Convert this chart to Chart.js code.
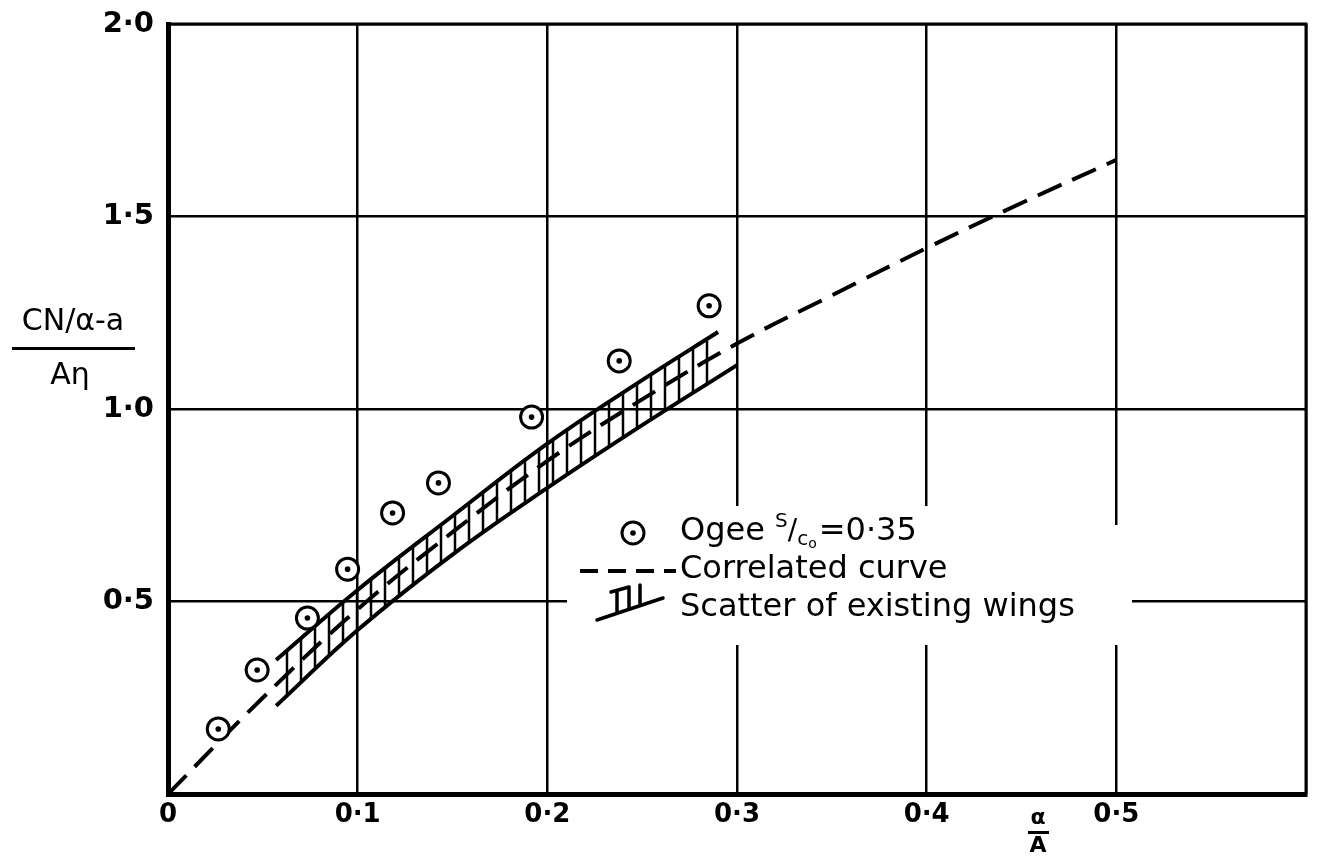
<!DOCTYPE html>
<html>
<head>
<meta charset="utf-8">
<title>CN/α-a over Aη against α/A</title>
<script src="https://cdn.jsdelivr.net/npm/chart.js@4"></script>
<style>
  html, body { margin: 0; padding: 0; background: #fff; }
  #wrap { width: 1320px; height: 857px; }
</style>
</head>
<body>
<div id="wrap"><canvas id="ogeeChart" width="1320" height="857"></canvas></div>
<script>
// Ogee s/c0 = 0.35 test points
const ogeeX = [0.0265, 0.047, 0.0735, 0.0947, 0.1184, 0.1426, 0.1917, 0.2379, 0.2853];
const ogeeY = [0.169, 0.322, 0.457, 0.584, 0.730, 0.808, 0.979, 1.125, 1.268];

// correlated curve (dashed)
const curveX = [0, 0.05, 0.1, 0.15, 0.2, 0.25, 0.3, 0.35, 0.4, 0.45, 0.5];
const curveY = [0, 0.25, 0.48, 0.68, 0.865, 1.025, 1.17, 1.295, 1.418, 1.535, 1.647];

// scatter band of existing wings
const bandUpperX = [0.057, 0.1, 0.15, 0.2, 0.25, 0.29];
const bandUpperY = [0.348, 0.53, 0.722, 0.91, 1.075, 1.20];
const bandLowerX = [0.057, 0.1, 0.15, 0.2, 0.25, 0.3];
const bandLowerY = [0.229, 0.426, 0.622, 0.795, 0.958, 1.114];

// tick labels
const xTickValues = [0, 0.1, 0.2, 0.3, 0.4, 0.5, 0.6];
const xTickLabels = ['0', '0·1', '0·2', '0·3', '0·4', '0·5', ''];
const yTickValues = [0, 0.5, 1.0, 1.5, 2.0];
const yTickLabels = ['', '0·5', '1·0', '1·5', '2·0'];

const legendLabels = ['Ogee', 'Correlated curve', 'Scatter of existing wings'];

const toPoints = (xs, ys) => xs.map((x, i) => ({ x: x, y: ys[i] }));

// vertical hatching for the band
function hatchPattern() {
    const c = document.createElement('canvas');
    c.width = 14; c.height = 14;
    const g = c.getContext('2d');
    g.strokeStyle = '#000';
    g.lineWidth = 2.5;
    g.beginPath();
    g.moveTo(7, 0); g.lineTo(7, 14);
    g.stroke();
    return g.createPattern(c, 'repeat');
}

const FONT = '"DejaVu Sans", sans-serif';

// white clearing behind the legend, outer frame
const framePlugin = {
    id: 'frame',
    beforeDatasetsDraw(chart) {
        const ctx = chart.ctx;
        ctx.save();
        ctx.fillStyle = '#fff';
        ctx.fillRect(567, 506, 545, 139);
        ctx.fillRect(1110, 525, 22, 120);
        ctx.restore();
    },
    afterDraw(chart) {
        const ctx = chart.ctx;
        const a = chart.chartArea;
        ctx.save();
        ctx.strokeStyle = '#000';
        ctx.lineWidth = 3;
        ctx.beginPath();
        ctx.moveTo(a.left, a.top);
        ctx.lineTo(a.right, a.top);
        ctx.lineTo(a.right, a.bottom);
        ctx.stroke();
        ctx.restore();
    }
};

// dots in the centre of the test points, legend and axis titles
const annotatePlugin = {
    id: 'annotate',
    afterDatasetsDraw(chart) {
        const ctx = chart.ctx;
        ctx.save();
        ctx.fillStyle = '#000';
        chart.getDatasetMeta(0).data.forEach(p => {
            ctx.beginPath();
            ctx.arc(p.x, p.y, 2.8, 0, Math.PI * 2);
            ctx.fill();
        });

        // legend: circle symbol
        ctx.lineWidth = 3;
        ctx.strokeStyle = '#000';
        ctx.beginPath();
        ctx.arc(633, 533, 11, 0, Math.PI * 2);
        ctx.stroke();
        ctx.beginPath();
        ctx.arc(633, 533, 2.8, 0, Math.PI * 2);
        ctx.fill();

        // legend: dashed line
        ctx.lineWidth = 4;
        ctx.setLineDash([18, 10]);
        ctx.beginPath();
        ctx.moveTo(580, 571);
        ctx.lineTo(676, 571);
        ctx.stroke();
        ctx.setLineDash([]);

        // legend: hatching symbol
        ctx.lineWidth = 3.5;
        ctx.lineCap = 'round';
        ctx.beginPath();
        ctx.moveTo(597, 620); ctx.lineTo(663, 598);
        ctx.moveTo(611, 592); ctx.lineTo(629, 587);
        ctx.moveTo(617, 592); ctx.lineTo(617, 612);
        ctx.moveTo(629, 587); ctx.lineTo(629, 608);
        ctx.moveTo(640, 585); ctx.lineTo(640, 604);
        ctx.stroke();
        ctx.lineCap = 'butt';

        // legend text
        ctx.textBaseline = 'middle';
        ctx.textAlign = 'left';
        ctx.font = '32px ' + FONT;
        ctx.fillText(legendLabels[0], 680, 532);
        let x = 680 + ctx.measureText(legendLabels[0] + ' ').width;
        ctx.font = '20px ' + FONT;
        ctx.fillText('S', x, 522);
        x += ctx.measureText('S').width;
        ctx.font = '28px ' + FONT;
        ctx.fillText('/', x, 532);
        x += ctx.measureText('/').width;
        ctx.font = '20px ' + FONT;
        ctx.fillText('c', x, 540);
        x += ctx.measureText('c').width;
        ctx.font = '14px ' + FONT;
        ctx.fillText('o', x, 544);
        x += ctx.measureText('o').width + 2;
        ctx.font = '32px ' + FONT;
        ctx.fillText('=0·35', x, 532);
        ctx.fillText(legendLabels[1], 680, 570);
        ctx.fillText(legendLabels[2], 680, 608);

        // y axis title as a fraction
        ctx.textAlign = 'center';
        ctx.font = '30px ' + FONT;
        ctx.fillText('CN/α-a', 73, 322);
        ctx.fillRect(12, 347, 123, 3);
        ctx.fillText('Aη', 70, 376);

        // x axis title as a fraction
        ctx.font = 'bold 22px ' + FONT;
        ctx.fillText('α', 1038, 818);
        ctx.fillRect(1028, 831, 21, 3);
        ctx.fillText('A', 1038, 846);
        ctx.restore();
    }
};

const ctxEl = document.getElementById('ogeeChart');
const hatch = hatchPattern();

const ogeeChart = new Chart(ctxEl, {
    type: 'line',
    data: {
        datasets: [
            {
                label: 'Ogee s/c0 = 0.35',
                data: toPoints(ogeeX, ogeeY),
                showLine: false,
                pointRadius: 11,
                pointBorderWidth: 3,
                pointBorderColor: '#000',
                pointBackgroundColor: '#fff',
                order: 0
            },
            {
                label: 'Correlated curve',
                data: toPoints(curveX, curveY),
                borderColor: '#000',
                borderWidth: 4,
                borderDash: [26, 12],
                pointRadius: 0,
                tension: 0.4,
                fill: false,
                order: 1
            },
            {
                label: 'Scatter upper',
                data: toPoints(bandUpperX, bandUpperY),
                borderColor: '#000',
                borderWidth: 4,
                pointRadius: 0,
                tension: 0.4,
                fill: false,
                order: 2
            },
            {
                label: 'Scatter of existing wings',
                data: toPoints(bandLowerX, bandLowerY),
                borderColor: '#000',
                borderWidth: 4,
                backgroundColor: hatch,
                pointRadius: 0,
                tension: 0.4,
                fill: '-1',
                order: 3
            }
        ]
    },
    options: {
        responsive: false,
        animation: false,
        devicePixelRatio: 1,
        layout: { padding: { top: 24, right: 12, left: 0, bottom: 0 } },
        plugins: {
            legend: { display: false },
            tooltip: { enabled: false }
        },
        scales: {
            x: {
                type: 'linear',
                min: 0,
                max: 0.6,
                afterBuildTicks: s => { s.ticks = xTickValues.map(v => ({ value: v })); },
                afterFit: s => { s.height = 63; s.paddingLeft = 0; s.paddingRight = 0; },
                ticks: {
                    color: '#000',
                    font: { family: FONT, size: 26, weight: 'bold' },
                    padding: 6,
                    maxRotation: 0,
                    callback: (v, i) => xTickLabels[i]
                },
                grid: { color: '#000', lineWidth: 2.5, drawTicks: false },
                border: { color: '#000', width: 5 }
            },
            y: {
                type: 'linear',
                min: 0,
                max: 2.0,
                afterBuildTicks: s => { s.ticks = yTickValues.map(v => ({ value: v })); },
                afterFit: s => { s.width = 168; s.paddingTop = 0; s.paddingBottom = 0; },
                ticks: {
                    color: '#000',
                    font: { family: FONT, size: 29, weight: 'bold' },
                    padding: 14,
                    callback: (v, i) => yTickLabels[i]
                },
                grid: { color: '#000', lineWidth: 2.5, drawTicks: false },
                border: { color: '#000', width: 5 }
            }
        }
    },
    plugins: [framePlugin, annotatePlugin]
});
</script>
</body>
</html>
